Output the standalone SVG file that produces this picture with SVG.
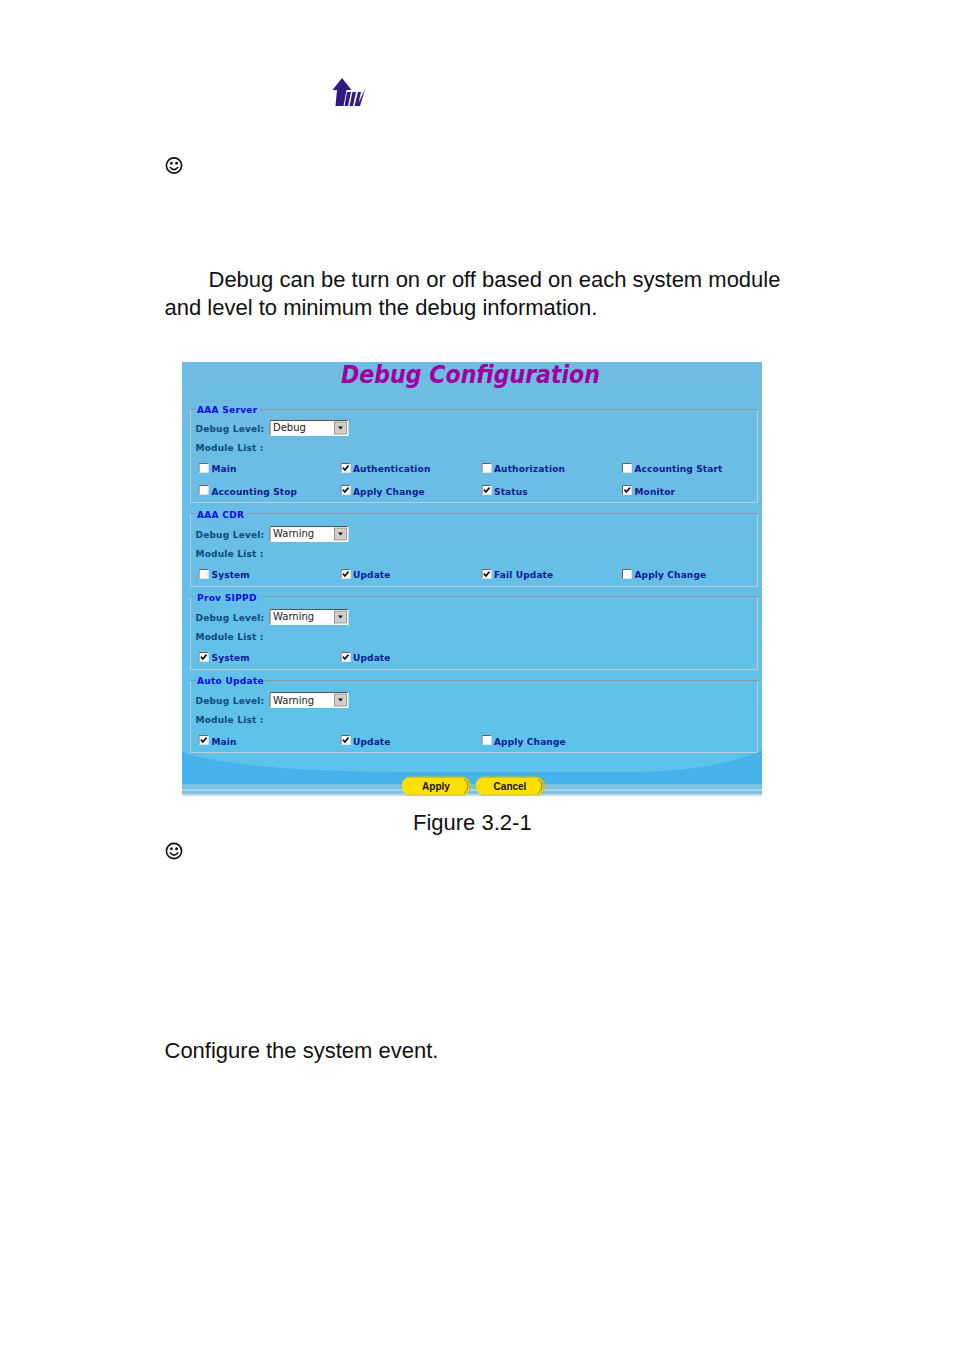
<svg xmlns="http://www.w3.org/2000/svg" width="954" height="1350" viewBox="0 0 954 1350">
<style>
.body{font-family:"Liberation Sans",Arial,sans-serif;font-size:22px;fill:#111}
.ui{font-family:"DejaVu Sans",Verdana,sans-serif;font-size:9px;font-weight:bold}
.lg{fill:#0a0ae8;letter-spacing:.3px}
.lb{fill:#0d4a7c;letter-spacing:.2px}
.mod{fill:#0a1a90;letter-spacing:.15px}
.sel{font-family:"DejaVu Sans",Verdana,sans-serif;font-size:10px;fill:#222}
.fs{fill:none;stroke:#c4ccd4;stroke-width:1}
.ft{stroke:#8c979f;stroke-width:1}
.btn{font-family:"Liberation Sans",Arial,sans-serif;font-size:10px;font-weight:bold;fill:#111;text-anchor:middle}
</style>
<defs>
<linearGradient id="bg" x1="0" y1="0" x2="0" y2="1">
<stop offset="0" stop-color="#70bbe2"/><stop offset=".5" stop-color="#66bfe6"/><stop offset="1" stop-color="#5bc3ec"/>
</linearGradient>
<g id="smile" fill="none" stroke="#111" stroke-width="1.6">
<circle cx="0" cy="0" r="7.6"/>
<path d="M-4.200 1.600Q0 6.600 4.200 1.600"/>
<circle cx="-2.600" cy="-2.200" r=".7" fill="#111"/><circle cx="2.600" cy="-2.200" r=".7" fill="#111"/>
</g>
<g id="box">
<rect x="0" y="0" width="10" height="10" fill="#fff"/>
<path d="M.5 10V.5H10" fill="none" stroke="#5f6368"/>
<path d="M.5 9.500H9.500V.5" fill="none" stroke="#dfe3e6"/>
</g>
<g id="chk">
<use href="#box"/>
<path d="M2.400 4.600L4.400 7L8 2.600" fill="none" stroke="#111" stroke-width="1.700"/>
</g>
<g id="select">
<rect x="0" y="0" width="79" height="16" fill="#fff"/>
<path d="M.5 15.500V.5H78.500" fill="none" stroke="#555"/>
<rect x="65" y="2" width="12" height="12" fill="#d4d0c8" stroke="#666" stroke-width=".6"/>
<path d="M68.500 6.500H73.500L71 9.500Z" fill="#111"/>
</g>
<g id="button">
<rect x="0" y="0" width="67" height="17" rx="7" fill="#ffe000"/>
<path d="M5 -.5H60Q68.500 0 68.500 8.500Q68.500 17 60 17.500H5" fill="none" stroke="#d8c000" stroke-width="1"/>
<path d="M62 1.500Q66 4 66 8.500Q66 13 62 15.500" fill="none" stroke="#6a6a30" stroke-width=".8"/>
</g>
</defs>
<rect width="954" height="1350" fill="#fff"/>

<g id="logo" fill="#2e1a80">
<path d="M342 78L351.500 90H346.500L343.500 106H335.500L337 90H332.500Z"/>
<path d="M347 92H351L348 106H344.500Z"/>
<path d="M352.500 92H356L353 106H349.500Z"/>
<path d="M358 92H361L358.500 103L365.500 88L360 106H354.500Z"/>
</g>
<use id="smiley1" href="#smile" x="174" y="165.500"/>

<text class="body" x="208.500" y="287">Debug can be turn on or off based on each system module</text>
<text class="body" x="164.500" y="315">and level to minimum the debug information.</text>

<g id="panel">
<rect x="182" y="362" width="580" height="434" fill="url(#bg)"/>
<path d="M182 752Q240 772 420 772H640Q720 770 762 750V796H182Z" fill="#45b2ec"/>
<rect x="182" y="784" width="580" height="5" fill="#7cc0e2"/>
<rect x="182" y="789" width="580" height="2" fill="#a6d4ea"/>
<rect x="182" y="791" width="580" height="3" fill="#84c2e2"/>
<rect x="182" y="794" width="580" height="2" fill="#c0dcea"/>
<text x="341" y="383" font-family="DejaVu Sans,Verdana,sans-serif" font-size="25px" font-weight="bold" font-style="italic" fill="#a0009c" textLength="259" lengthAdjust="spacingAndGlyphs">Debug Configuration</text>
</g>

<g id="aaa-server">
<path class="fs" d="M190.500 410V502.500H757.500V410"/>
<path class="ft" d="M190 409.500H196M260 409.500H758"/>
<text class="ui lg" x="197" y="413">AAA Server</text>
<text class="ui lb" x="195.500" y="431.500">Debug Level:</text>
<use href="#select" x="269.500" y="420"/>
<text class="sel" x="273" y="431">Debug</text>
<text class="ui lb" x="195.500" y="450.500">Module List :</text>
<use href="#box" x="198.500" y="463"/><text class="ui mod" x="211.500" y="472">Main</text>
<use href="#chk" x="340.500" y="463"/><text class="ui mod" x="353" y="472">Authentication</text>
<use href="#box" x="481.500" y="463"/><text class="ui mod" x="494" y="472">Authorization</text>
<use href="#box" x="622" y="463"/><text class="ui mod" x="634.500" y="472">Accounting Start</text>
<use href="#box" x="198.500" y="485"/><text class="ui mod" x="211.500" y="495">Accounting Stop</text>
<use href="#chk" x="340.500" y="485"/><text class="ui mod" x="353" y="495">Apply Change</text>
<use href="#chk" x="481.500" y="485"/><text class="ui mod" x="494" y="495">Status</text>
<use href="#chk" x="622" y="485"/><text class="ui mod" x="634.500" y="495">Monitor</text>
</g>

<g id="aaa-cdr">
<path class="fs" d="M190.500 514V586.500H757.500V514"/>
<path class="ft" d="M190 513.500H196M246 513.500H758"/>
<text class="ui lg" x="197" y="517.500">AAA CDR</text>
<text class="ui lb" x="195.500" y="537.500">Debug Level:</text>
<use href="#select" x="269.500" y="526"/>
<text class="sel" x="273" y="537">Warning</text>
<text class="ui lb" x="195.500" y="556.500">Module List :</text>
<use href="#box" x="198.500" y="569"/><text class="ui mod" x="211.500" y="578">System</text>
<use href="#chk" x="340.500" y="569"/><text class="ui mod" x="353" y="578">Update</text>
<use href="#chk" x="481.500" y="569"/><text class="ui mod" x="494" y="578">Fail Update</text>
<use href="#box" x="622" y="569"/><text class="ui mod" x="634.500" y="578">Apply Change</text>
</g>

<g id="prov-sippd">
<path class="fs" d="M190.500 597V669.500H757.500V597"/>
<path class="ft" d="M190 596.500H196M262 596.500H758"/>
<text class="ui lg" x="197" y="600.500">Prov SIPPD</text>
<text class="ui lb" x="195.500" y="620.500">Debug Level:</text>
<use href="#select" x="269.500" y="609"/>
<text class="sel" x="273" y="620">Warning</text>
<text class="ui lb" x="195.500" y="639.500">Module List :</text>
<use href="#chk" x="198.500" y="652"/><text class="ui mod" x="211.500" y="661">System</text>
<use href="#chk" x="340.500" y="652"/><text class="ui mod" x="353" y="661">Update</text>
</g>

<g id="auto-update">
<path class="fs" d="M190.500 680V752.500H757.500V680"/>
<path class="ft" d="M190 680.500H196M264 680.500H758"/>
<text class="ui lg" x="197" y="684">Auto Update</text>
<text class="ui lb" x="195.500" y="704">Debug Level:</text>
<use href="#select" x="269.500" y="692"/>
<text class="sel" x="273" y="703.500">Warning</text>
<text class="ui lb" x="195.500" y="723">Module List :</text>
<use href="#chk" x="198.500" y="735"/><text class="ui mod" x="211.500" y="745">Main</text>
<use href="#chk" x="340.500" y="735"/><text class="ui mod" x="353" y="745">Update</text>
<use href="#box" x="481.500" y="735"/><text class="ui mod" x="494" y="745">Apply Change</text>
</g>

<g id="apply"><use href="#button" x="402" y="777.500"/><text class="btn" x="436" y="789.500">Apply</text></g>
<g id="cancel"><use href="#button" x="476" y="777.500"/><text class="btn" x="510" y="789.500">Cancel</text></g>

<text class="body" x="413" y="830">Figure 3.2-1</text>
<use id="smiley2" href="#smile" x="174" y="851"/>
<text class="body" x="164.500" y="1058">Configure the system event.</text>
</svg>
